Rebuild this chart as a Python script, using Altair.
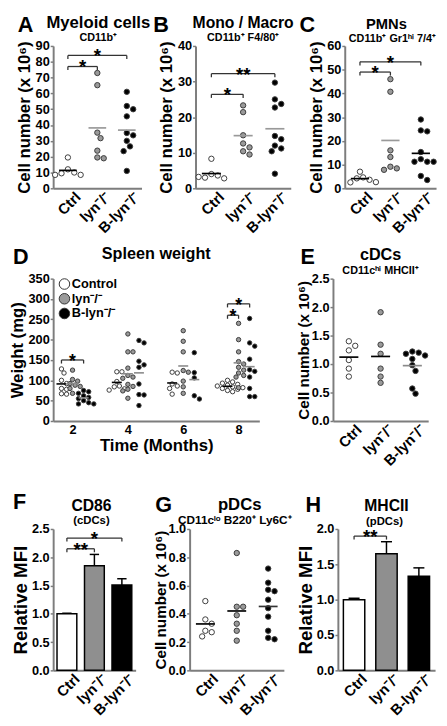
import altair as alt
import numpy as np
import pandas as pd

FONT = "Liberation Sans"
GENO = ["Ctrl", "lyn⁻/⁻", "B-lyn⁻/⁻"]
POINT_FILL = ["#ffffff", "#9a9a9a", "#000000"]
BAR_FILL = ["#ffffff", "#8f8f8f", "#000000"]

# ---------------- data ----------------
# A  Myeloid cells CD11b+ (x10^6)
a_ctrl = [19.5, 12.0, 10.0, 9.5, 8.5, 8.5]
a_lyn = [72.9, 65.2, 35.2, 31.7, 23.8, 19.5, 19.0]
a_blyn = [61.0, 52.0, 50.0, 45.5, 35.0, 33.5, 30.0, 26.5, 23.5, 11.0]
a_sig_to = [1, 2]
a_sig_y = [77, 84]
a_sig_lab = ["*", "*"]

# B  Mono / Macro CD11b+ F4/80+
b_ctrl = [8.3, 4.0, 3.6, 3.0, 2.8, 3.2]
b_lyn = [23.3, 21.4, 14.9, 12.6, 11.5, 10.4, 9.5]
b_blyn = [29.7, 25.0, 23.7, 22.7, 14.7, 13.8, 12.0, 11.2, 10.4, 4.1]
b_sig_to = [1, 2]
b_sig_y = [26.4, 32.2]
b_sig_lab = ["*", "**"]

# C  PMNs CD11b+ Gr1hi 7/4+
c_ctrl = [7.0, 4.6, 4.2, 3.6, 2.5, 2.6]
c_lyn = [46.0, 40.7, 16.0, 13.2, 9.1, 8.4, 7.8]
c_blyn = [29.0, 24.4, 24.0, 15.3, 12.3, 11.2, 11.2, 11.2, 5.2, 3.5]
c_sig_to = [1, 2]
c_sig_y = [49, 53.3]
c_sig_lab = ["*", "*"]

# D  Spleen weight (mg) by month
d_months = [2, 4, 6, 8]
d_ctrl = [
    [128, 118, 100, 92, 80, 78, 67, 66],
    [121, 121, 97, 86, 84, 79, 76],
    [120, 118, 91, 86, 80, 66],
    [100, 96, 93, 90, 88, 86, 84, 82, 80, 78, 75, 72],
]
d_lyn = [
    [125, 102, 98, 92, 88, 85, 80, 68],
    [214, 170, 170, 130, 112, 108, 105, 90, 85, 78, 74, 56],
    [222, 196, 170, 124, 120, 98, 84, 68],
    [240, 200, 170, 146, 140, 132, 125, 118, 112, 108, 82],
]
d_blyn = [
    [75, 72, 68, 62, 58, 55, 50, 45, 42, 42],
    [198, 192, 147, 138, 132, 91, 65, 64, 38],
    [168, 119, 106, 62, 54],
    [252, 192, 184, 152, 126, 122, 108, 80, 60, 60],
]
d_sig_month = [2, 8, 8]
d_sig_to = [2, 1, 2]
d_sig_y = [150, 260, 288]
d_sig_lab = ["*", "*", "*"]

# E  cDCs CD11chi MHCII+
e_ctrl = [1.40, 1.32, 1.24, 1.07, 0.92, 0.78]
e_lyn = [1.91, 1.34, 1.18, 0.92, 0.78, 0.67]
e_blyn = [1.22, 1.20, 1.18, 1.15, 1.09, 0.98, 0.88, 0.57, 0.48]

# F  CD86 relative MFI (cDCs)
f_mean = [1.00, 1.85, 1.51]
f_sem = [0.01, 0.20, 0.11]
f_sig_to = [1, 2]
f_sig_y = [2.15, 2.34]
f_sig_lab = ["**", "*"]

# G  pDCs CD11clo B220+ Ly6C+
g_ctrl = [0.49, 0.36, 0.33, 0.28, 0.27, 0.24]
g_lyn = [0.83, 0.45, 0.45, 0.39, 0.33, 0.28, 0.21]
g_blyn = [0.72, 0.62, 0.57, 0.56, 0.50, 0.44, 0.38, 0.28, 0.23, 0.22]

# H  MHCII relative MFI (pDCs)
h_mean = [1.00, 1.65, 1.33]
h_sem = [0.02, 0.17, 0.12]
h_sig_to = [1]
h_sig_y = [1.90]
h_sig_lab = ["**"]


# ---------------- helpers ----------------
def yticks(ymax, step):
    n = int(round(ymax / step))
    return [round(i * step, 4) for i in range(n + 1)]


def yaxis(title, ymax, step, fmt, tx, tsize=17):
    return alt.Axis(title=title, values=yticks(ymax, step), format=fmt, labelOverlap=False,
                    tickCount=len(yticks(ymax, step)), titleX=tx, titleBaseline="bottom",
                    titleFontSize=tsize)


def swarm(vals, pxy, diam):
    """Simple beeswarm: horizontal pixel offsets so circles do not overlap."""
    cands = [0.0]
    for k in range(1, 14):
        cands += [k * diam / 2.0, -k * diam / 2.0]
    placed, offs = [], []
    for v in vals:
        y = v * pxy
        chosen = cands[-1]
        for c in cands:
            if all((c - px) ** 2 + (y - py) ** 2 >= (diam * 0.92) ** 2 for px, py in placed):
                chosen = c
                break
        placed.append((chosen, y))
        offs.append(chosen)
    return offs


def note(text, x, y, size, align="left"):
    return (
        alt.Chart(pd.DataFrame({"t": [text]}))
        .mark_text(font=FONT, fontSize=size, fontWeight="bold", align=align,
                   baseline="alphabetic", color="black")
        .encode(x=alt.value(x), y=alt.value(y), text="t:N")
    )


def heading(w, letter, lx, ly, title, tdx, ty, tsize, sub=None, sdx=0, sy=0, ssize=11):
    out = [note(letter, lx, ly, 22), note(title, w / 2 + tdx, ty, tsize, "center")]
    if sub:
        out.append(note(sub, w / 2 + sdx, sy, ssize, "center"))
    return out


def cat_axis():
    return alt.Axis(
        title=None, values=[0, 1, 2], tickCount=3,
        labelExpr="datum.value == 0 ? 'Ctrl' : datum.value == 1 ? 'lyn⁻/⁻' : 'B-lyn⁻/⁻'",
        labelAngle=-45, labelAlign="right", labelBaseline="top", labelFontSize=15,
        ticks=False, labelPadding=1, labelOffset=5,
        labelOverlap=False, labelFlush=False, labelBound=False,
    )


def bracket_layers(x1, x2, yv, labs, xs, ys, xax, yax, tick, star_size=19, star_dy=7):
    df = pd.DataFrame({"x1": x1, "x2": x2, "y": yv, "lab": labs})
    df["yt"] = df["y"] - tick
    df["xm"] = (df["x1"] + df["x2"]) / 2.0
    base = alt.Chart(df)
    Y = alt.Y("y:Q", scale=ys, axis=yax)
    style = dict(color="#333333", strokeWidth=1.3)
    hline = base.mark_rule(**style).encode(x=alt.X("x1:Q", scale=xs, axis=xax), x2="x2:Q", y=Y)
    lt = base.mark_rule(**style).encode(x=alt.X("x1:Q", scale=xs, axis=xax), y=Y, y2="yt:Q")
    rt = base.mark_rule(**style).encode(x=alt.X("x2:Q", scale=xs, axis=xax), y=Y, y2="yt:Q")
    star = base.mark_text(font=FONT, fontSize=star_size, fontWeight="bold", dy=star_dy,
                          baseline="alphabetic", color="black").encode(
        x=alt.X("xm:Q", scale=xs, axis=xax), y=Y, text="lab:N")
    return [hline, lt, rt, star]


def dot_panel(groups, ymax, ystep, fmt, w, h, yax, line_colors, deco,
              sig_to=None, sig_y=None, sig_lab=None, diam=6.5, size=30):
    pxx = w / 3.0
    pxy = h / ymax
    rows = []
    for gi, vals in enumerate(groups):
        for v, o in zip(vals, swarm(vals, pxy, diam)):
            rows.append({"fc": POINT_FILL[gi], "x": gi + o / pxx, "y": v})
    pts = pd.DataFrame(rows)
    xs = alt.Scale(domain=[-0.5, 2.5], nice=False, zero=False)
    ys = alt.Scale(domain=[0, ymax], nice=False)
    xax = cat_axis()
    means = pd.DataFrame({
        "x1": [i - 0.3 for i in range(3)],
        "x2": [i + 0.3 for i in range(3)],
        "m": [float(np.mean(g)) for g in groups],
        "c": line_colors,
    })
    points = alt.Chart(pts).mark_point(
        shape="circle", filled=True, size=size, stroke="#3c3c3c", strokeWidth=1, opacity=1
    ).encode(
        x=alt.X("x:Q", scale=xs, axis=xax),
        y=alt.Y("y:Q", scale=ys, axis=yax),
        fill=alt.Fill("fc:N", scale=None),
    )
    mlines = alt.Chart(means).mark_rule(strokeWidth=1.7).encode(
        x=alt.X("x1:Q", scale=xs, axis=xax), x2="x2:Q",
        y=alt.Y("m:Q", scale=ys, axis=yax),
        color=alt.Color("c:N", scale=None))
    layers = [points, mlines]
    if sig_to:
        layers += bracket_layers([0] * len(sig_to), sig_to, sig_y, sig_lab, xs, ys, xax, yax,
                                 ymax * 0.025)
    layers += deco
    return alt.layer(*layers).properties(width=w, height=h)


def bar_panel(means_, sems_, ymax, w, h, yax, halfw, deco, sig_to, sig_y, sig_lab):
    xs = alt.Scale(domain=[-0.5, 2.5], nice=False, zero=False)
    ys = alt.Scale(domain=[0, ymax], nice=False)
    xax = cat_axis()
    df = pd.DataFrame({
        "fc": BAR_FILL,
        "x": [0, 1, 2],
        "m": means_,
        "top": [m + s for m, s in zip(means_, sems_)],
        "z": [0, 0, 0],
    })
    df["x1"] = df["x"] - halfw
    df["x2"] = df["x"] + halfw
    df["c1"] = df["x"] - 0.17
    df["c2"] = df["x"] + 0.17
    base = alt.Chart(df)
    bars = base.mark_rect(stroke="black", strokeWidth=1.5).encode(
        x=alt.X("x1:Q", scale=xs, axis=xax), x2="x2:Q",
        y=alt.Y("m:Q", scale=ys, axis=yax), y2="z:Q",
        fill=alt.Fill("fc:N", scale=None),
    )
    err = base.mark_rule(color="black", strokeWidth=1.5).encode(
        x=alt.X("x:Q", scale=xs, axis=xax), y=alt.Y("m:Q", scale=ys, axis=yax), y2="top:Q")
    cap = base.mark_rule(color="black", strokeWidth=1.5).encode(
        x=alt.X("c1:Q", scale=xs, axis=xax), x2="c2:Q", y=alt.Y("top:Q", scale=ys, axis=yax))
    layers = [bars, err, cap]
    layers += bracket_layers([0] * len(sig_to), sig_to, sig_y, sig_lab, xs, ys, xax, yax,
                             ymax * 0.025)
    layers += deco
    return alt.layer(*layers).properties(width=w, height=h)


CELL = "Cell number (x 10⁶)"

# ---------------- panels ----------------
A = dot_panel([a_ctrl, a_lyn, a_blyn], 90, 10, "d", 90, 145,
              yaxis(CELL, 90, 10, "d", -20),
              ["#000000", "#999999", "#999999"],
              heading(90, "A", -36, -14, "Myeloid cells", 1, -18, 17, "CD11b⁺", 1, -5),
              a_sig_to, a_sig_y, a_sig_lab)
B = dot_panel([b_ctrl, b_lyn, b_blyn], 40, 10, "d", 97, 145,
              yaxis(CELL, 40, 10, "d", -20),
              ["#000000", "#999999", "#999999"],
              heading(97, "B", -43, -14, "Mono / Macro", 0, -18, 16, "CD11b⁺ F4/80⁺", 0, -5),
              b_sig_to, b_sig_y, b_sig_lab)
C = dot_panel([c_ctrl, c_lyn, c_blyn], 60, 10, "d", 93, 145,
              yaxis(CELL, 60, 10, "d", -20),
              ["#000000", "#999999", "#000000"],
              heading(93, "C", -46, -14, "PMNs", -4, -17, 15, "CD11b⁺ Gr1ʰⁱ 7/4⁺", 2, -4),
              c_sig_to, c_sig_y, c_sig_lab)

# D: spleen weight over time
D_W, D_H = 210, 145
D_DOM = [1.3, 8.75]
goff = [-0.4, 0.0, 0.4]
pxx_d = D_W / (D_DOM[1] - D_DOM[0])
pxy_d = D_H / 350.0
d_rows, d_means = [], []
for mi, mo in enumerate(d_months):
    for gi, series in enumerate([d_ctrl, d_lyn, d_blyn]):
        vals = series[mi]
        for v, o in zip(vals, swarm(vals, pxy_d, 5.2)):
            d_rows.append({"geno": GENO[gi], "x": mo + goff[gi] + o / pxx_d, "y": v})
        d_means.append({"x1": mo + goff[gi] - 0.18, "x2": mo + goff[gi] + 0.18,
                        "m": float(np.mean(vals)),
                        "c": "#000000" if gi == 0 else "#8a8a8a"})
d_pts = pd.DataFrame(d_rows)
d_mean_df = pd.DataFrame(d_means)
dxs = alt.Scale(domain=D_DOM, nice=False, zero=False)
dys = alt.Scale(domain=[0, 350], nice=False)
d_xax = alt.Axis(title="Time (Months)", values=d_months, tickCount=4, format="d",
                 ticks=False, labelPadding=3, titlePadding=1,
                 labelFlush=False, labelOverlap=False)
d_yax = yaxis("Weight (mg)", 350, 50, "d", -27)
d_points = alt.Chart(d_pts).mark_point(
    shape="circle", filled=True, size=20, stroke="#3c3c3c", strokeWidth=1, opacity=1
).encode(
    x=alt.X("x:Q", scale=dxs, axis=d_xax),
    y=alt.Y("y:Q", scale=dys, axis=d_yax),
    fill=alt.Fill("geno:N", scale=alt.Scale(domain=GENO, range=POINT_FILL),
                  legend=alt.Legend(title=None, orient="none", legendX=5, legendY=-1,
                                    labelFont=FONT, labelFontSize=13, labelFontWeight="bold",
                                    labelColor="black", symbolSize=115, symbolType="circle",
                                    symbolStrokeColor="#333333", symbolStrokeWidth=1,
                                    symbolOpacity=1,
                                    rowPadding=0, labelOffset=1, padding=0,
                                    labelExpr="datum.label == 'Ctrl' ? 'Control' : datum.label")),
)
d_lines = alt.Chart(d_mean_df).mark_rule(strokeWidth=1.6).encode(
    x=alt.X("x1:Q", scale=dxs, axis=d_xax), x2="x2:Q",
    y=alt.Y("m:Q", scale=dys, axis=d_yax), color=alt.Color("c:N", scale=None))
d_x1 = [m + goff[0] for m in d_sig_month]
d_x2 = [m + goff[t] for m, t in zip(d_sig_month, d_sig_to)]
D = alt.layer(
    d_points, d_lines,
    *bracket_layers(d_x1, d_x2, d_sig_y, d_sig_lab, dxs, dys, d_xax, d_yax, 350 * 0.025, 18, 7),
    *heading(D_W, "D", -41, -15, "Spleen weight", 0, -20, 16.5),
).properties(width=D_W, height=D_H)

E = dot_panel([e_ctrl, e_lyn, e_blyn], 2.5, 0.5, ".1f", 97, 145,
              yaxis(CELL, 2.5, 0.5, ".1f", -22, 15.5),
              ["#000000", "#000000", "#8a8a8a"],
              heading(97, "E", -33, -15, "cDCs", 0, -19, 16.5, "CD11cʰⁱ MHCII⁺", 0, -5))

BH = 144
F = bar_panel(f_mean, f_sem, 2.5, 84, BH, yaxis("Relative MFI", 2.5, 0.5, ".1f", -23, 19), 0.36,
              heading(84, "F", -41, -20, "CD86", -3, -18, 16, "(cDCs)", -3, -5, 11.5),
              f_sig_to, f_sig_y, f_sig_lab)
G = dot_panel([g_ctrl, g_lyn, g_blyn], 1.0, 0.2, ".1f", 96, BH,
              yaxis(CELL, 1.0, 0.2, ".1f", -22, 15.5),
              ["#000000", "#000000", "#333333"],
              heading(96, "G", -35, -17, "pDCs", 3, -19, 17, "CD11cˡᵒ B220⁺ Ly6C⁺", -2, -5, 12))
H = bar_panel(h_mean, h_sem, 2.0, 99, BH, yaxis("Relative MFI", 2.0, 0.5, ".1f", -23, 19), 0.33,
              heading(99, "H", -33, -17, "MHCII", 0, -18, 16, "(pDCs)", -2, -4, 11.5),
              h_sig_to, h_sig_y, h_sig_lab)

top = alt.hconcat(A, B, C, spacing=55, bounds="flush")
mid = (alt.hconcat(D, E, spacing=75, bounds="flush")
       .resolve_scale(fill="independent").resolve_legend(fill="independent"))
bot = alt.hconcat(F, G, H, spacing=55, bounds="flush")

upper = (alt.vconcat(top, mid, spacing=10)
         .resolve_scale(fill="independent").resolve_legend(fill="independent"))
chart = (
    alt.vconcat(upper, bot, spacing=23)
    .resolve_scale(fill="independent").resolve_legend(fill="independent")
    .properties(padding=0, background="white")
    .configure_view(stroke=None)
    .configure_axis(
        labelFont=FONT, labelFontSize=13, labelFontWeight="bold", labelColor="black",
        titleFont=FONT, titleFontSize=17, titleFontWeight="bold", titleColor="black",
        domainColor="#7d7d7d", domainWidth=2, tickColor="#7d7d7d", tickWidth=1.5,
        grid=False,
    )
    .configure_axisY(tickSize=3, labelPadding=1, titlePadding=0)
)

chart.save("out.html", embed_options={"renderer": "svg", "actions": False})
